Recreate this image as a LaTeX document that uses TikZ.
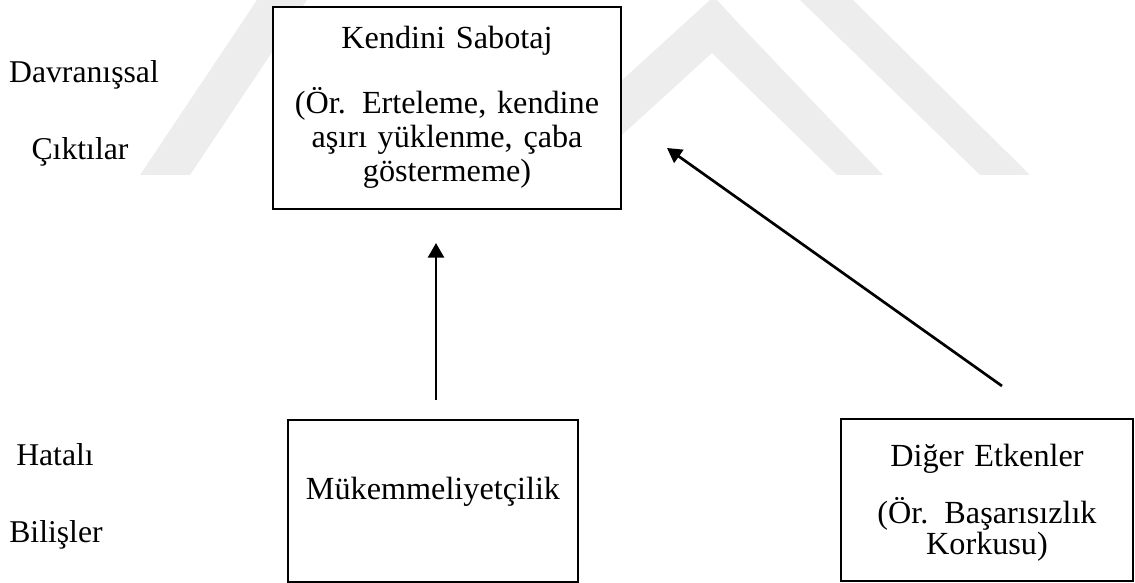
\documentclass[tikz,border=0pt]{standalone}
\usepackage{fontspec}
\setmainfont{Liberation Serif}
\usepackage{tikz}
\usetikzlibrary{arrows.meta}

\begin{document}
\begin{tikzpicture}[x=0.013744cm, y=-0.013744cm,
	box/.style={draw=black, line width=0.7pt, fill=white, inner sep=0pt},
	boxtext/.style={align=center, text width=4.5cm, inner sep=0pt,
		font=\fontsize{12.6}{13.3}\selectfont},
	side/.style={anchor=base, font=\fontsize{12.4}{15}\selectfont},
	link/.style={line width=1.05pt, -{Triangle[length=5.7pt,width=6.2pt]}},
	ghost/.style={fill=black!7, draw=none}]
	%%%%% START %%%%%
	\useasboundingbox (0, 0) rectangle (1135, 583);
	
	% watermark in the back
	\fill[ghost] (140, 175) -- (190, 175) -- (307, 0) -- (257, 0) -- cycle;
	\fill[ghost] (518, 175) -- (710, 0) -- (717, 0) -- (740, 25) -- (883, 175)
		-- (837, 175) -- (712, 53) -- (578, 175) -- cycle;
	\fill[ghost] (800, 0) -- (853, 0) -- (1030, 175) -- (980, 175) -- cycle;
	
	% boxes
	\node[box, minimum width=4.783cm, minimum height=2.776cm,
		label={[boxtext, yshift=0.2pt]center:{Kendini Sabotaj\\[12.1pt] (Ör. Erteleme, kendine\\
			aşırı yüklenme, çaba\\ göstermeme)}}] (sabotaj) at (447, 108) {};
	\node[box, minimum width=3.986cm, minimum height=2.227cm,
		label={[boxtext, yshift=3.5pt]center:Mükemmeliyetçilik}] (mukemmel) at (433, 501) {};
	\node[box, minimum width=4.013cm, minimum height=2.227cm,
		label={[boxtext, text width=3.8cm, yshift=-1pt]center:{Diğer Etkenler\\[9pt] (Ör. Başarısızlık\\[-1.2pt]
			Korkusu)}}] (diger) at (987, 500) {};
	
	% side labels
	\node[side] (davranis) at (84, 83) {Davranışsal};
	\node[side] (cikti) at (80, 160) {Çıktılar};
	\node[side] (hatali) at (55, 466) {Hatalı};
	\node[side] (bilis) at (56, 543) {Bilişler};
	
	% arrows
	\coordinate (mukemmelUp) at (436, 400);
	\coordinate (mukemmelTip) at (436, 243);
	\coordinate (digerUp) at (1002, 386);
	\coordinate (digerTip) at (667, 148);
	\draw[link] (mukemmelUp) -- (mukemmelTip);
	\draw[link] (digerUp) -- (digerTip);
	%%%%% END %%%%%
\end{tikzpicture}
\end{document}
